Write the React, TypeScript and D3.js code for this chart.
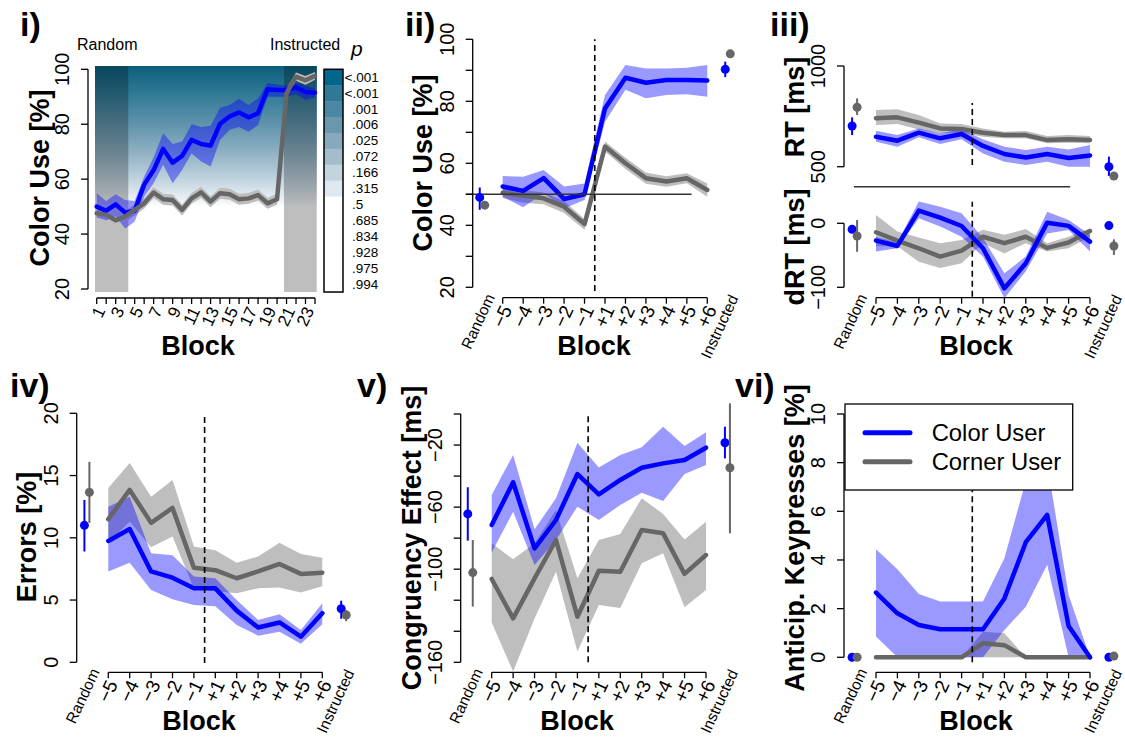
import React from "react";
import * as d3 from "d3";

const FONT = "'Liberation Sans', Arial, Helvetica, sans-serif";
const BLUE = "#0000ff";
const GREY = "#666666";
const BLUE_BAND = "rgba(0,0,255,0.4)";
const GREY_BAND = "#bebebe";
const ANGLE = -65;

// ---------- panel i : colour use per block ----------
const blocks = d3.range(1, 25);
const iColor = [50.0, 48.5, 50.8, 47.8, 48.5, 58.0, 63.3, 71.0, 66.0, 68.5, 74.3, 72.8, 72.2, 80.2, 82.8, 84.3, 82.5, 84.0, 92.7, 92.5, 92.5, 93.4, 91.7, 91.5];
const iColorHi = [54.9, 52.0, 54.5, 52.4, 52.0, 61.0, 68.0, 76.7, 72.8, 73.7, 80.0, 79.0, 79.4, 86.0, 87.0, 89.3, 87.0, 89.4, 95.0, 94.5, 94.0, 95.0, 94.0, 93.0];
const iColorLo = [46.0, 45.0, 46.4, 42.0, 44.5, 53.6, 58.5, 65.2, 58.5, 63.3, 69.4, 66.4, 64.6, 74.3, 78.0, 79.0, 77.3, 79.7, 90.0, 90.0, 90.0, 91.0, 88.8, 89.8];
const iCorner = [47.6, 47.0, 45.0, 46.4, 48.8, 51.2, 55.1, 52.7, 52.4, 48.8, 53.0, 55.2, 51.8, 54.9, 54.5, 52.7, 53.0, 54.2, 51.2, 52.7, 91.3, 97.3, 96.0, 97.6];
const iCornerHi = [49.6, 49.0, 47.2, 48.4, 50.8, 53.2, 57.1, 54.7, 54.4, 50.8, 55.0, 57.2, 53.8, 56.9, 56.5, 54.7, 55.0, 56.2, 53.2, 54.7, 93.0, 98.8, 97.6, 99.0];
const iCornerLo = [45.6, 45.0, 43.0, 44.4, 46.8, 49.2, 53.1, 50.7, 50.4, 46.8, 51.0, 53.2, 49.8, 52.9, 52.5, 50.7, 51.0, 52.2, 49.2, 50.7, 89.6, 95.8, 94.4, 96.2];
const pLevels = ["<.001", "<.001", ".001", ".006", ".025", ".072", ".166", ".315", ".5", ".685", ".834", ".928", ".975", ".994"];

// relative block labels for panels ii - vi
const relBlocks = ["\u22125", "\u22124", "\u22123", "\u22122", "\u22121", "+1", "+2", "+3", "+4", "+5", "+6"];

// ---------- panel ii : colour use around switch ----------
const iiColor = [52.5, 51.1, 55.2, 48.5, 50.0, 77.7, 87.6, 86.0, 86.9, 86.9, 86.7];
const iiColorHi = [55.9, 55.7, 57.8, 52.5, 53.5, 82.0, 91.7, 90.6, 90.6, 90.8, 91.7];
const iiColorLo = [49.2, 45.8, 50.3, 45.5, 48.2, 73.4, 83.7, 81.0, 82.0, 82.3, 81.5];
const iiCorner = [50.5, 49.5, 48.7, 46.0, 40.4, 65.4, 60.0, 55.2, 54.1, 55.2, 51.4];
const iiCornerHi = [51.8, 51.3, 50.6, 47.8, 42.0, 67.0, 61.8, 57.0, 55.8, 56.8, 53.5];
const iiCornerLo = [48.8, 47.3, 46.8, 44.0, 38.6, 63.8, 58.2, 53.4, 52.4, 53.6, 49.2];
// mean, lo, hi (colour user) then mean, lo, hi (corner user)
const iiRandom = [49.0, 45.0, 52.2, 46.5, 46.2, 46.8];
const iiInstructed = [90.3, 87.8, 92.8, 95.3, 95.0, 95.6];

// ---------- panel iii : RT and dRT ----------
const rtColor = [649, 629, 669, 641, 662, 603, 563, 546, 563, 543, 556];
const rtColorHi = [679, 657, 690, 666, 685, 636, 599, 583, 599, 586, 608];
const rtColorLo = [624, 599, 646, 613, 636, 566, 525, 508, 525, 500, 500];
const rtCorner = [740, 745, 719, 690, 687, 669, 657, 657, 632, 636, 632];
const rtCornerHi = [781, 785, 757, 715, 712, 690, 674, 677, 652, 657, 652];
const rtCornerLo = [707, 712, 685, 666, 669, 649, 641, 641, 616, 619, 616];
const rtRandom = [702, 657, 745, 795, 757, 839];
const rtInstructed = [500, 454, 550, 454, 450, 458];

const drtColor = [-27, -35.4, 19.8, 8.9, -4.2, -39, -101.6, -62.5, 1, -4, -28.6];
const drtColorHi = [-21, -30, 34, 26, 15.6, -23, -78, -52, 18, 5, -18];
const drtColorLo = [-44, -39, 8, -5, -21, -52, -117, -75, -16, -10.4, -44];
const drtCorner = [-14, -27, -39, -52, -42.7, -21, -31, -21, -38.5, -30, -12];
const drtCornerHi = [13, -13, -22, -31, -26, -10, -18, -9, -31, -21, -8];
const drtCornerLo = [-36, -36, -60, -70, -62.5, -31, -47, -31, -44, -39, -21];
const drtRandom = [-9.4, -15, -4, -19.8, -44.5, 5];
const drtInstructed = [-3.6, -6, -1, -35.4, -49.5, -25];

// ---------- panel iv : errors ----------
const errColor = [9.75, 10.7, 7.3, 6.8, 5.94, 5.94, 4.15, 2.8, 3.2, 2.06, 3.94];
const errColorHi = [12.5, 13.3, 8.75, 8.6, 6.9, 6.75, 5.0, 3.4, 3.85, 2.6, 4.74];
const errColorLo = [7.3, 8.0, 5.8, 5.06, 4.6, 4.5, 3.0, 2.14, 2.46, 1.5, 3.05];
const errCorner = [11.5, 13.85, 11.2, 12.4, 7.6, 7.4, 6.75, 7.3, 7.9, 7.1, 7.2];
const errCornerHi = [14.0, 16.0, 13.3, 14.65, 9.3, 9.0, 8.0, 8.5, 9.6, 8.7, 8.4];
const errCornerLo = [9.6, 11.3, 9.24, 10.1, 5.94, 5.7, 5.54, 5.94, 6.0, 5.6, 6.1];
const errRandom = [11.0, 8.9, 13.04, 13.65, 11.2, 16.1];
const errInstructed = [4.3, 3.5, 4.95, 3.8, 3.3, 4.2];

// ---------- panel v : congruency effect ----------
const congColor = [-71.5, -44, -86.6, -68.3, -38.7, -51.8, -42.5, -34.6, -31.8, -29.6, -21.7];
const congColorHi = [-52.2, -26.4, -74.3, -54.3, -18.5, -34.4, -26.4, -21.5, -8.2, -20.6, -11.8];
const congColorLo = [-89.3, -63, -97.3, -81.2, -59.7, -68.3, -58.6, -50.7, -56, -38.7, -32.9];
const congCorner = [-106.3, -131.7, -105.9, -81.2, -130.6, -101, -101.6, -74.7, -76.9, -103, -90.9];
const congCornerHi = [-83.3, -93.6, -83.3, -61.9, -105.9, -81.2, -77.3, -54.3, -64.4, -80.8, -69.4];
const congCornerLo = [-134.4, -166, -131.7, -101.6, -153, -123, -125, -96.2, -89.8, -124.6, -113.4];
const congRandom = [-64.4, -81.6, -47.2, -102.2, -124.1, -81.2];
const congInstructed = [-18.5, -28.6, -8.2, -34.6, -76.9, 6.9];

// ---------- panel vi : anticipatory keypresses ----------
const antColor = [2.66, 1.81, 1.33, 1.15, 1.15, 1.15, 2.42, 4.73, 5.85, 1.29, 0];
const antColorHi = [4.44, 3.62, 2.6, 2.29, 2.29, 2.29, 4.07, 7.25, 7.98, 2.56, 0];
const antColorLo = [0.85, 0, 0, 0, 0, 0, 1.12, 2.08, 3.8, 0, 0];
const antCorner = [0, 0, 0, 0, 0, 0.58, 0.5, 0, 0, 0, 0];
const antCornerHi = [0, 0, 0, 0, 0, 1.05, 0.99, 0, 0, 0, 0];
const antCornerLo = [0, 0, 0, 0, 0, 0, 0, 0, 0, 0, 0];
const antRandom = [0, 0, 0, 0, 0, 0];
const antInstructed = [0, 0, 0, 0.05, 0.05, 0.05];

const legendNames = ["Color User", "Corner User"];

// heatmap ramp (value -> colour) and colour bar steps
const HEAT: [number, string][] = [
  [101.2, "#0b5f7c"], [90, "#357c98"], [80, "#6093ac"], [70, "#8eb0c2"],
  [60, "#c0d3de"], [53, "#e8eff3"], [50, "#ffffff"],
];
const CBAR = ["#00678c", "#2f7896", "#4a87a3", "#6897ae", "#86a9bd", "#a4bccb", "#c4d4de", "#e0e8ef"];

type Lin = d3.ScaleLinear<number, number>;
type XF = (i: number) => number;

const fmt = (v: number) => (v < 0 ? "\u2212" + Math.abs(v) : String(v));

function bandPath(x: XF, y: Lin, lo: number[], hi: number[]) {
  return d3.area<number>().x((_, i) => x(i)).y0((d) => y(d)).y1((_, i) => y(hi[i]))(lo) ?? "";
}
function linePath(x: XF, y: Lin, v: number[]) {
  return d3.line<number>().x((_, i) => x(i)).y((d) => y(d))(v) ?? "";
}

function Traces(p: { x: XF; y: Lin; c: number[]; cLo: number[]; cHi: number[]; g: number[]; gLo: number[]; gHi: number[]; greyOnTop?: boolean }) {
  const { x, y } = p;
  const ln = { fill: "none", strokeWidth: 4.5, strokeLinejoin: "round" as const, strokeLinecap: "round" as const };
  const greyLine = <path d={linePath(x, y, p.g)} stroke={GREY} {...ln} />;
  const blueLine = <path d={linePath(x, y, p.c)} stroke={BLUE} {...ln} />;
  return (
    <g>
      <path d={bandPath(x, y, p.gLo, p.gHi)} fill={GREY_BAND} />
      <path d={bandPath(x, y, p.cLo, p.cHi)} fill={BLUE_BAND} />
      {p.greyOnTop ? blueLine : greyLine}
      {p.greyOnTop ? greyLine : blueLine}
    </g>
  );
}

function SidePoints({ cx, y, v }: { cx: number; y: Lin; v: number[] }) {
  return (
    <g>
      <line x1={cx - 2.5} x2={cx - 2.5} y1={y(v[1])} y2={y(v[2])} stroke={BLUE} strokeWidth={2} />
      <circle cx={cx - 2.5} cy={y(v[0])} r={4.5} fill={BLUE} />
      <line x1={cx + 2.5} x2={cx + 2.5} y1={y(v[4])} y2={y(v[5])} stroke={GREY} strokeWidth={2} />
      <circle cx={cx + 2.5} cy={y(v[3])} r={4.5} fill={GREY} />
    </g>
  );
}

function YAxis({ y, x, ticks, labels }: { y: Lin; x: number; ticks: number[]; labels: number[] }) {
  const [a, b] = d3.extent(ticks) as [number, number];
  return (
    <g>
      <line x1={x} x2={x} y1={y(a)} y2={y(b)} stroke="#000" strokeWidth={1.3} />
      {ticks.map((t) => (
        <line key={t} x1={x - 7} x2={x} y1={y(t)} y2={y(t)} stroke="#000" strokeWidth={1.3} />
      ))}
      {labels.map((t) => (
        <text key={t} transform={`translate(${x - 26},${y(t)}) rotate(-90)`} textAnchor="middle" dominantBaseline="central" fontSize={20}>
          {fmt(t)}
        </text>
      ))}
    </g>
  );
}

function BlockAxis({ x, axisY }: { x: Lin; axisY: number }) {
  return (
    <g>
      <line x1={x(0)} x2={x(relBlocks.length - 1)} y1={axisY} y2={axisY} stroke="#000" strokeWidth={1.3} />
      {relBlocks.map((l, i) => (
        <g key={l}>
          <line x1={x(i)} x2={x(i)} y1={axisY} y2={axisY + 6} stroke="#000" strokeWidth={1.3} />
          <text transform={`translate(${x(i) + 4},${axisY + 9}) rotate(${ANGLE})`} textAnchor="end" dominantBaseline="central" fontSize={19}>
            {l}
          </text>
        </g>
      ))}
      <text transform={`translate(${x(-1) + 8},${axisY - 3}) rotate(${ANGLE})`} textAnchor="end" dominantBaseline="central" fontSize={15.5}>
        Random
      </text>
      <text transform={`translate(${x(relBlocks.length) + 6},${axisY - 2}) rotate(${ANGLE})`} textAnchor="end" dominantBaseline="central" fontSize={15.5}>
        Instructed
      </text>
    </g>
  );
}

function Dashed({ x, y, from, to }: { x: number; y: Lin; from: number; to: number }) {
  return <line x1={x} x2={x} y1={y(from)} y2={y(to)} stroke="#000" strokeWidth={1.6} strokeDasharray="6,4" />;
}

function Title({ x, y, t }: { x: number; y: number; t: string }) {
  return <text x={x} y={y} fontSize={34} fontWeight="bold">{t}</text>;
}
function YTitle({ x, y, t }: { x: number; y: number; t: string }) {
  return (
    <text transform={`translate(${x},${y}) rotate(-90)`} textAnchor="middle" dominantBaseline="central" fontSize={27} fontWeight="bold">
      {t}
    </text>
  );
}
function XTitle({ x, y }: { x: number; y: number }) {
  return <text x={x} y={y} textAnchor="middle" fontSize={27} fontWeight="bold">Block</text>;
}

function PanelI() {
  const x = d3.scaleLinear().domain([1, 24]).range([96.7, 315]);
  const y = d3.scaleLinear().domain([20, 100]).range([289, 69.3]);
  const xi: XF = (i) => x(blocks[i]);
  const yTop = y(101.2), yBot = y(18.9), y50 = y(50);
  const off = (v: number) => (y(v) - yTop) / (y50 - yTop);
  const left = x(0.82), right = x(24.18);
  const shade = (c: string) => {
    const r = d3.rgb(c);
    return d3.rgb(r.r * 0.745, r.g * 0.745, r.b * 0.745).formatHex();
  };
  const cbTop = y(100), rowH = (yBot - cbTop) / pLevels.length;
  const axisY = 298;
  return (
    <g>
      <defs>
        <linearGradient id="heat" gradientUnits="userSpaceOnUse" x1={0} x2={0} y1={yTop} y2={y50}>
          {HEAT.map(([v, c]) => <stop key={v} offset={off(v)} stopColor={c} />)}
        </linearGradient>
        <linearGradient id="heatShade" gradientUnits="userSpaceOnUse" x1={0} x2={0} y1={yTop} y2={y50}>
          {HEAT.map(([v, c]) => <stop key={v} offset={off(v)} stopColor={shade(c)} />)}
        </linearGradient>
      </defs>
      <rect x={left} y={yTop} width={right - left} height={yBot - yTop} fill="url(#heat)" />
      <rect x={left} y={yTop} width={x(4.33) - left} height={yBot - yTop} fill="url(#heatShade)" />
      <rect x={x(20.73)} y={yTop} width={right - x(20.73)} height={yBot - yTop} fill="url(#heatShade)" />
      <Traces x={xi} y={y} c={iColor} cLo={iColorLo} cHi={iColorHi} g={iCorner} gLo={iCornerLo} gHi={iCornerHi} greyOnTop />
      <YAxis y={y} x={88} ticks={[20, 40, 60, 80, 100]} labels={[20, 40, 60, 80, 100]} />
      <line x1={x(1)} x2={x(24)} y1={axisY} y2={axisY} stroke="#000" strokeWidth={1.3} />
      {blocks.map((b) => (
        <g key={b}>
          <line x1={x(b)} x2={x(b)} y1={axisY} y2={axisY + 6} stroke="#000" strokeWidth={1.3} />
          {b % 2 === 1 && (
            <text transform={`translate(${x(b) + 4},${axisY + 10}) rotate(${ANGLE})`} textAnchor="end" dominantBaseline="central" fontSize={17}>
              {b}
            </text>
          )}
        </g>
      ))}
      {pLevels.map((p, i) => (
        <g key={i}>
          <rect x={324} y={cbTop + i * rowH} width={19} height={rowH + 0.5} fill={CBAR[i] ?? "#ffffff"} />
          <text x={p.startsWith("<") ? 344.5 : 352} y={cbTop + (i + 0.5) * rowH} dominantBaseline="central" fontSize={13.5}>
            {p}
          </text>
        </g>
      ))}
      <rect x={324} y={cbTop} width={19} height={yBot - cbTop} fill="none" stroke="#000" strokeWidth={1.5} />
      <text x={351} y={56} fontSize={21} fontStyle="italic">p</text>
      <text x={77} y={50} fontSize={16}>Random</text>
      <text x={270} y={50} fontSize={16}>Instructed</text>
      <Title x={20} y={36} t="i)" />
      <YTitle x={40} y={178} t="Color Use [%]" />
      <XTitle x={198} y={355} />
    </g>
  );
}

function PanelII() {
  const x = d3.scaleLinear().domain([0, 10]).range([502.7, 707.3]);
  const y = d3.scaleLinear().domain([20, 100]).range([287.3, 39.3]);
  return (
    <g>
      <Traces x={x} y={y} c={iiColor} cLo={iiColorLo} cHi={iiColorHi} g={iiCorner} gLo={iiCornerLo} gHi={iiCornerHi} />
      <line x1={x(-1.8)} x2={x(9.23)} y1={y(50)} y2={y(50)} stroke="#333" strokeWidth={1.5} />
      <Dashed x={x(4.5)} y={y} from={18.8} to={100} />
      <SidePoints cx={x(-1)} y={y} v={iiRandom} />
      <SidePoints cx={x(11)} y={y} v={iiInstructed} />
      <YAxis y={y} x={472.7} ticks={d3.range(20, 101, 10)} labels={[20, 40, 60, 80, 100]} />
      <BlockAxis x={x} axisY={297.7} />
      <Title x={405} y={36} t="ii)" />
      <YTitle x={423} y={163} t="Color Use [%]" />
      <XTitle x={594} y={355} />
    </g>
  );
}

function PanelIII() {
  const x = d3.scaleLinear().domain([0, 10]).range([876, 1090]);
  const yU = d3.scaleLinear().domain([500, 1000]).range([166.7, 66]);
  const yL = d3.scaleLinear().domain([-100, 0]).range([287.3, 223.3]);
  return (
    <g>
      <Traces x={x} y={yU} c={rtColor} cLo={rtColorLo} cHi={rtColorHi} g={rtCorner} gLo={rtCornerLo} gHi={rtCornerHi} />
      <Traces x={x} y={yL} c={drtColor} cLo={drtColorLo} cHi={drtColorHi} g={drtCorner} gLo={drtCornerLo} gHi={drtCornerHi} />
      <Dashed x={x(4.5)} y={yU} from={508} to={816} />
      <Dashed x={x(4.5)} y={yL} from={-114.7} to={33.7} />
      <line x1={x(-1.03)} x2={x(9.07)} y1={186.7} y2={186.7} stroke="#333" strokeWidth={1.5} />
      <SidePoints cx={x(-1)} y={yU} v={rtRandom} />
      <SidePoints cx={x(11)} y={yU} v={rtInstructed} />
      <SidePoints cx={x(-1)} y={yL} v={drtRandom} />
      <SidePoints cx={x(11)} y={yL} v={drtInstructed} />
      <YAxis y={yU} x={844} ticks={[500, 1000]} labels={[500, 1000]} />
      <YAxis y={yL} x={844} ticks={[-100, 0]} labels={[-100, 0]} />
      <BlockAxis x={x} axisY={297.7} />
      <Title x={770} y={36} t="iii)" />
      <YTitle x={795} y={107} t="RT [ms]" />
      <YTitle x={795} y={247} t="dRT [ms]" />
      <XTitle x={976} y={355} />
    </g>
  );
}

function PanelIV() {
  const x = d3.scaleLinear().domain([0, 10]).range([108.3, 322.3]);
  const y = d3.scaleLinear().domain([0, 20]).range([662.3, 413.3]);
  return (
    <g>
      <Traces x={x} y={y} c={errColor} cLo={errColorLo} cHi={errColorHi} g={errCorner} gLo={errCornerLo} gHi={errCornerHi} />
      <Dashed x={x(4.5)} y={y} from={-0.05} to={20} />
      <SidePoints cx={x(-1)} y={y} v={errRandom} />
      <SidePoints cx={x(11)} y={y} v={errInstructed} />
      <YAxis y={y} x={76.7} ticks={[0, 5, 10, 15, 20]} labels={[0, 5, 10, 15, 20]} />
      <BlockAxis x={x} axisY={672.3} />
      <Title x={10} y={397} t="iv)" />
      <YTitle x={27} y={537} t="Errors [%]" />
      <XTitle x={199} y={730} />
    </g>
  );
}

function PanelV() {
  const x = d3.scaleLinear().domain([0, 10]).range([491.7, 706]);
  const y = d3.scaleLinear().domain([-160, 0]).range([662.3, 414]);
  return (
    <g>
      <Traces x={x} y={y} c={congColor} cLo={congColorLo} cHi={congColorHi} g={congCorner} gLo={congCornerLo} gHi={congCornerHi} />
      <Dashed x={x(4.5)} y={y} from={-160} to={0} />
      <SidePoints cx={x(-1)} y={y} v={congRandom} />
      <SidePoints cx={x(11)} y={y} v={congInstructed} />
      <YAxis y={y} x={460.7} ticks={d3.range(-160, 1, 20)} labels={[-160, -100, -60, -20]} />
      <BlockAxis x={x} axisY={672.3} />
      <Title x={357} y={397} t="v)" />
      <YTitle x={412} y={538} t="Congruency Effect [ms]" />
      <XTitle x={577} y={730} />
    </g>
  );
}

function PanelVI() {
  const x = d3.scaleLinear().domain([0, 10]).range([876, 1090]);
  const y = d3.scaleLinear().domain([0, 10]).range([657.3, 414]);
  const legendColors = [BLUE, GREY];
  return (
    <g>
      <Traces x={x} y={y} c={antColor} cLo={antColorLo} cHi={antColorHi} g={antCorner} gLo={antCornerLo} gHi={antCornerHi} />
      <Dashed x={x(4.5)} y={y} from={-0.2} to={10} />
      <SidePoints cx={x(-1)} y={y} v={antRandom} />
      <SidePoints cx={x(11)} y={y} v={antInstructed} />
      <YAxis y={y} x={844} ticks={[0, 2, 4, 6, 8, 10]} labels={[0, 2, 4, 6, 8, 10]} />
      <BlockAxis x={x} axisY={672.3} />
      <rect x={845} y={404} width={227.7} height={86} fill="#fff" stroke="#000" strokeWidth={1.3} />
      {legendNames.map((n, i) => (
        <g key={n}>
          <line x1={865} x2={910} y1={432.7 + i * 29} y2={432.7 + i * 29} stroke={legendColors[i]} strokeWidth={5} strokeLinecap="round" />
          <text x={931.7} y={432.7 + i * 29} dominantBaseline="central" fontSize={23.8}>{n}</text>
        </g>
      ))}
      <Title x={735} y={397} t="vi)" />
      <YTitle x={795} y={538} t="Anticip. Keypresses [%]" />
      <XTitle x={976} y={730} />
    </g>
  );
}

export default function App() {
  return (
    <svg width={1125} height={738} style={{ position: "absolute", left: 0, top: 0 }} fontFamily={FONT}>
      <rect width={1125} height={738} fill="#fff" />
      <PanelI />
      <PanelII />
      <PanelIII />
      <PanelIV />
      <PanelV />
      <PanelVI />
    </svg>
  );
}
